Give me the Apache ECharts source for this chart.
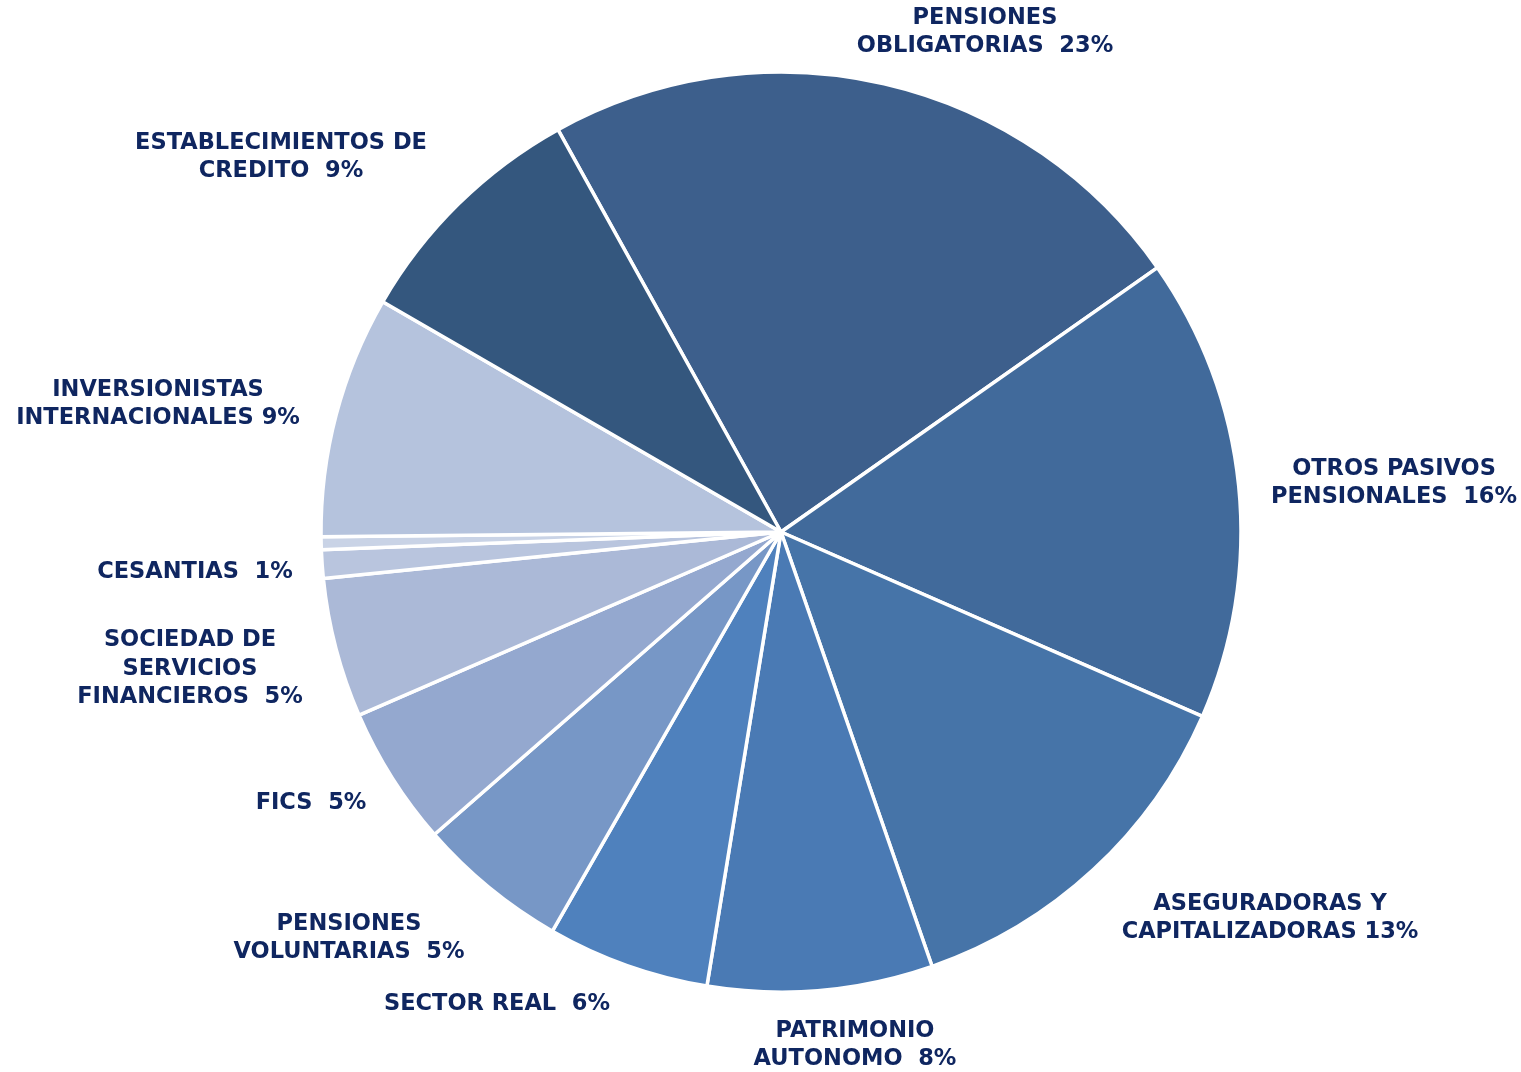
<!DOCTYPE html>
<html>
<head>
<meta charset="utf-8">
<script src="https://cdn.jsdelivr.net/npm/echarts@6/dist/echarts.min.js"></script>
<style>
  html, body { margin: 0; padding: 0; background: #fff; }
  #chart { width: 1521px; height: 1072px; }
</style>
</head>
<body>
<div id="chart"></div>
<script>
  // categorias (el sector sin nombre es una tajada muy pequeña sin etiqueta)
  const categories = [
    'PENSIONES OBLIGATORIAS', 'OTROS PASIVOS PENSIONALES', 'ASEGURADORAS Y CAPITALIZADORAS',
    'PATRIMONIO AUTONOMO', 'SECTOR REAL', 'PENSIONES VOLUNTARIAS', 'FICS',
    'SOCIEDAD DE SERVICIOS FINANCIEROS', 'CESANTIAS', 'OTROS',
    'INVERSIONISTAS INTERNACIONALES', 'ESTABLECIMIENTOS DE CREDITO'
  ];
  // participacion (%)
  const shares = [23.3, 16.3, 13.1, 7.9, 5.7, 5.3, 4.9, 4.9, 1.0, 0.45, 8.5, 8.6];
  // textos de etiqueta tal como aparecen
  const labelTexts = [
    'PENSIONES\nOBLIGATORIAS  23%',
    'OTROS PASIVOS\nPENSIONALES  16%',
    'ASEGURADORAS Y\nCAPITALIZADORAS 13%',
    'PATRIMONIO\nAUTONOMO  8%',
    'SECTOR REAL  6%',
    'PENSIONES\nVOLUNTARIAS  5%',
    'FICS  5%',
    'SOCIEDAD DE\nSERVICIOS\nFINANCIEROS  5%',
    'CESANTIAS  1%',
    '',
    'INVERSIONISTAS\nINTERNACIONALES 9%',
    'ESTABLECIMIENTOS DE\nCREDITO  9%'
  ];

  const sliceColors = [
    '#3d5f8c', '#416a9b', '#4674a8', '#4a7ab4', '#4f81bd', '#7797c6',
    '#94a8cf', '#abb9d7', '#b9c5de', '#c9d3e6', '#b5c3dd', '#34577e'
  ];
  // centro de cada etiqueta en pantalla
  const labelAnchors = [
    [985, 32], [1394, 483], [1270, 918], [855, 1045], [497, 1004], [349, 938],
    [311, 803], [190, 669], [195, 572], [0, 0], [158, 404], [281, 157]
  ];

  const chart = echarts.init(document.getElementById('chart'));
  chart.setOption({
    animation: false,
    series: [{
      type: 'pie',
      center: [781, 532],
      radius: [0, 460],
      startAngle: 119,
      clockwise: true,
      avoidLabelOverlap: false,
      data: categories.map((name, i) => ({
        name: name,
        value: shares[i],
        itemStyle: { color: sliceColors[i] },
        label: { show: labelTexts[i] !== '' }
      })),
      itemStyle: {
        borderColor: '#ffffff',
        borderWidth: 3.5
      },
      label: {
        position: 'outside',
        formatter: p => labelTexts[p.dataIndex],
        color: '#0f2660',
        fontFamily: 'DejaVu Sans',
        fontWeight: 'bold',
        fontSize: 22.5,
        lineHeight: 28.5,
        align: 'center'
      },
      labelLine: { show: false },
      labelLayout: function (params) {
        const a = labelAnchors[params.dataIndex];
        return {
          x: a[0],
          y: a[1],
          align: 'center',
          verticalAlign: 'middle'
        };
      }
    }]
  });
</script>
</body>
</html>
